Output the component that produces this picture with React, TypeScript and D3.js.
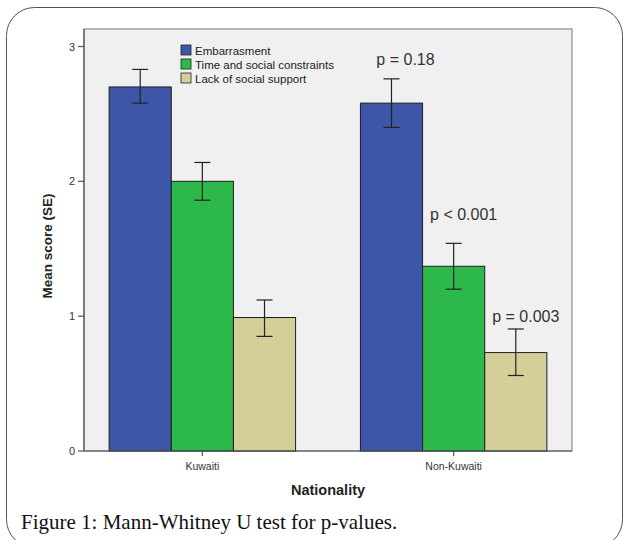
import React from "react";
import * as d3 from "d3";

const categories = ["Kuwaiti", "Non-Kuwaiti"];
const seriesNames = ["Embarrasment", "Time and social constraints", "Lack of social support"];
const seriesColors = ["#3e56a8", "#2db84b", "#d4cf99"];
// means[series][category]
const means = [
  [2.70, 2.58],
  [2.00, 1.37],
  [0.99, 0.73],
];
const errLow = [
  [2.58, 2.40],
  [1.86, 1.20],
  [0.85, 0.56],
];
const errHigh = [
  [2.83, 2.76],
  [2.14, 1.54],
  [1.12, 0.905],
];
// p-value annotations for Non-Kuwaiti bars, with label heights in data units
const pLabels = ["p = 0.18", "p < 0.001", "p = 0.003"];
const pLabelY = [2.86, 1.71, 0.955];
const yTicks = [0, 1, 2, 3];

export default function App() {
  const W = 624, H = 540;
  const left = 84, right = 572, top = 29, bottom = 451;
  const y = d3.scaleLinear().domain([0, 3]).range([bottom, 46.5]);
  const x0 = d3.scaleBand().domain(categories).range([left, right]).paddingInner(0.258).paddingOuter(0.1);
  const x1 = d3.scaleBand().domain(seriesNames).range([0, x0.bandwidth()]);
  const font = "'Liberation Sans', Arial, sans-serif";

  return (
    <svg width={W} height={H} style={{ position: "absolute", left: 0, top: 0, background: "#fff" }}>
      <rect x={6.5} y={7.5} width={616} height={540} rx={28} ry={28} fill="#fff" stroke="#555" strokeWidth={1} />
      <rect x={left} y={top} width={right - left} height={bottom - top} fill="#f0f0f0" stroke="#8a8a8a" strokeWidth={1.2} />
      {categories.map((c, ci) =>
        seriesNames.map((s, si) => {
          const bx = (x0(c) as number) + (x1(s) as number);
          const bw = x1.bandwidth();
          const cx = bx + bw / 2;
          return (
            <g key={c + s}>
              <rect x={bx} y={y(means[si][ci])} width={bw} height={bottom - y(means[si][ci])} fill={seriesColors[si]} stroke="#1f1f1f" strokeWidth={1} />
              <line x1={cx} x2={cx} y1={y(errHigh[si][ci])} y2={y(errLow[si][ci])} stroke="#222" strokeWidth={1.2} />
              <line x1={cx - 8} x2={cx + 8} y1={y(errHigh[si][ci])} y2={y(errHigh[si][ci])} stroke="#222" strokeWidth={1.2} />
              <line x1={cx - 8} x2={cx + 8} y1={y(errLow[si][ci])} y2={y(errLow[si][ci])} stroke="#222" strokeWidth={1.2} />
            </g>
          );
        })
      )}
      {/* p-values for Non-Kuwaiti */}
      {seriesNames.map((s, si) => {
        const c = categories[1];
        const cx = (x0(c) as number) + (x1(s) as number) + x1.bandwidth() / 2;
        const dx = si === 0 ? 14 : 10;
        return (
          <text key={s} x={cx + dx} y={y(pLabelY[si])} textAnchor="middle" fontFamily={font} fontSize={16} fill="#333">
            {pLabels[si]}
          </text>
        );
      })}
      {/* y axis */}
      <line x1={left} x2={left} y1={top} y2={bottom} stroke="#555" strokeWidth={1.2} />
      {yTicks.map((t) => (
        <g key={t}>
          <line x1={left - 6} x2={left} y1={y(t)} y2={y(t)} stroke="#555" strokeWidth={1.2} />
          <text x={left - 9} y={y(t) + 4} textAnchor="end" fontFamily={font} fontSize={11} fill="#333">{t}</text>
        </g>
      ))}
      {/* x axis */}
      <line x1={left} x2={right} y1={bottom} y2={bottom} stroke="#555" strokeWidth={1.2} />
      {categories.map((c) => {
        const cx = (x0(c) as number) + x0.bandwidth() / 2;
        return (
          <g key={c}>
            <line x1={cx} x2={cx} y1={bottom} y2={bottom + 5} stroke="#555" strokeWidth={1.2} />
            <text x={cx} y={bottom + 19} textAnchor="middle" fontFamily={font} fontSize={10.5} fill="#333">{c}</text>
          </g>
        );
      })}
      <text x={(left + right) / 2} y={495} textAnchor="middle" fontFamily={font} fontSize={14.5} fontWeight="bold" fill="#222">Nationality</text>
      <text transform={`translate(52,${(top + bottom) / 2 + 6}) rotate(-90)`} textAnchor="middle" fontFamily={font} fontSize={13.5} fontWeight="bold" fill="#222">Mean score (SE)</text>
      {/* legend */}
      {seriesNames.map((s, si) => (
        <g key={s} transform={`translate(181,${45 + si * 14})`}>
          <rect x={0} y={0} width={10} height={10} fill={seriesColors[si]} stroke="#222" strokeWidth={0.8} />
          <text x={14} y={9.5} fontFamily={font} fontSize={11.5} fill="#222">{s}</text>
        </g>
      ))}
      <text x={21} y={529} fontFamily="'Liberation Serif', 'Times New Roman', serif" fontSize={21} fill="#111">Figure 1: Mann-Whitney U test for p-values.</text>
    </svg>
  );
}
